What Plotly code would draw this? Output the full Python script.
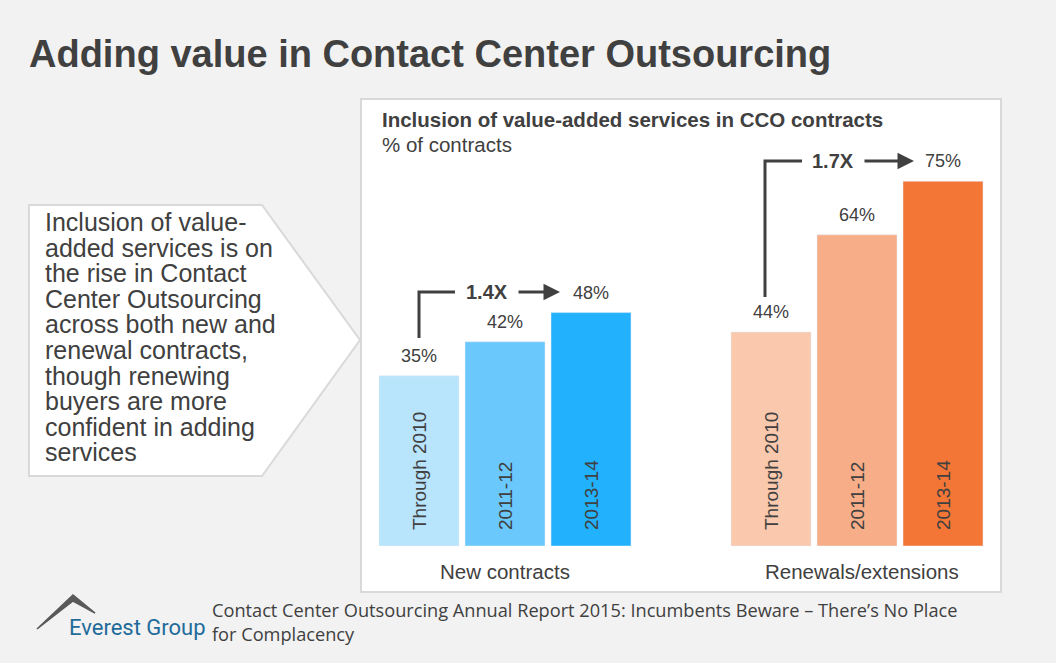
import plotly.graph_objects as go

W, H = 1056, 663

# dados
periodos = ['Through 2010', '2011-12', '2013-14']
novos = [35, 42, 48]
renovacoes = [44, 64, 75]
grupos = ['New contracts', 'Renewals/extensions']
multiplos = ['1.4X', '1.7X']

cores_novos = ['#b8e4fc', '#6ac8fd', '#22b1fd']
cores_renov = ['#f9c8ad', '#f6ad88', '#f47636']
TXT = '#404040'
FONTE = 'Liberation Sans, Arial, sans-serif'


def px(x):
    return x / W


def py(y):
    return 1 - y / H


def texto(x, y, t, size, xanchor='left', family=FONTE, color=TXT):
    # anotação em coordenadas de pixel da imagem
    return dict(x=px(x), y=py(y), xref='paper', yref='paper', text=t, showarrow=False,
                xanchor=xanchor, yanchor='middle',
                font=dict(size=size, color=color, family=family))


fig = go.Figure()
fig.add_trace(go.Bar(x=periodos, y=novos, marker_color=cores_novos,
                     xaxis='x', yaxis='y', hoverinfo='skip'))
fig.add_trace(go.Bar(x=periodos, y=renovacoes, marker_color=cores_renov,
                     xaxis='x2', yaxis='y', hoverinfo='skip'))

anots = []
shapes = []

# rótulos dentro das barras e valores acima
for ref, vals in (('x', novos), ('x2', renovacoes)):
    for p, v in zip(periodos, vals):
        anots.append(dict(x=p, y=0, xref=ref, yref='y', text=p, textangle=-90,
                          showarrow=False, xanchor='center', yanchor='bottom', yshift=14,
                          font=dict(size=19, color=TXT, family=FONTE)))
        anots.append(dict(x=p, y=v, xref=ref, yref='y', text=f'{v}%',
                          showarrow=False, xanchor='center', yanchor='bottom', yshift=8,
                          font=dict(size=18, color=TXT, family=FONTE)))

# rótulos dos grupos
for g, xc in zip(grupos, (505, 862)):
    anots.append(texto(xc, 571, g, 20.5, xanchor='center'))

# colchetes com multiplicador e seta
for m, (xv, yb, yt, xh, xt, xa0, xa1) in zip(
        multiplos,
        [(419, 338, 292, 455, 487, 517, 560), (765, 297, 161, 802, 833, 863, 914)]):
    shapes.append(dict(type='path', xref='paper', yref='paper',
                       path=f'M {px(xv)} {py(yb)} L {px(xv)} {py(yt)} L {px(xh)} {py(yt)}',
                       line=dict(color=TXT, width=3)))
    anots.append(texto(xt, yt, f'<b>{m}</b>', 20, xanchor='center'))
    anots.append(dict(x=px(xa1), y=py(yt), xref='paper', yref='paper', text='',
                      showarrow=True, ax=xa0 - xa1, ay=0, arrowhead=2, arrowsize=1.1,
                      arrowwidth=3, arrowcolor=TXT))

# painel branco e caixa em forma de seta
shapes.insert(0, dict(type='rect', xref='paper', yref='paper', layer='below',
                      x0=px(361), x1=px(1001), y0=py(592), y1=py(99),
                      fillcolor='white', line=dict(color='#d9d9d9', width=2)))
shapes.insert(0, dict(type='path', xref='paper', yref='paper', layer='below',
                      path=f'M {px(29)} {py(205)} L {px(262)} {py(205)} L {px(360)} {py(340)} '
                           f'L {px(262)} {py(476)} L {px(29)} {py(476)} Z',
                      fillcolor='white', line=dict(color='#d9d9d9', width=2)))

# logotipo (montanha)
shapes.append(dict(type='path', xref='paper', yref='paper',
                   path=f'M {px(37)} {py(629)} L {px(73)} {py(595)} L {px(95)} {py(613)} '
                        f'L {px(73)} {py(601)} Z',
                   fillcolor='#595959', line=dict(color='#595959', width=1.5)))

texto_caixa = ['Inclusion of value-', 'added services is on', 'the rise in Contact',
               'Center Outsourcing', 'across both new and', 'renewal contracts,',
               'though renewing', 'buyers are more', 'confident in adding', 'services']
for i, linha in enumerate(texto_caixa):
    anots.append(texto(43, 222 + i * 25.6, linha, 25))

anots += [
    texto(27, 54, '<b>Adding value in Contact Center Outsourcing</b>', 38),
    texto(380, 119, '<b>Inclusion of value-added services in CCO contracts</b>', 20.5),
    texto(380, 144, '% of contracts', 20.5),
    texto(67, 627, 'Everest Group', 22, color='#1f6b9a',
          family='Liberation Sans Narrow, Roboto, sans-serif'),
    texto(210, 610, 'Contact Center Outsourcing Annual Report 2015: Incumbents Beware '
                    '\u2013 There\u2019s No Place', 18.2, family='Open Sans, sans-serif'),
    texto(210, 634, 'for Complacency', 18.2, family='Open Sans, sans-serif'),
]

eixo_x = dict(type='category', showgrid=False, zeroline=False, showticklabels=False,
              showline=False, fixedrange=True)
fig.update_layout(
    width=W, height=H,
    margin=dict(l=0, r=0, t=0, b=0),
    paper_bgcolor='#f2f2f2', plot_bgcolor='rgba(0,0,0,0)',
    showlegend=False, bargap=0.07,
    xaxis=dict(domain=[px(376), px(634)], anchor='y', **eixo_x),
    xaxis2=dict(domain=[px(728), px(986)], anchor='y', **eixo_x),
    yaxis=dict(domain=[py(546), py(157)], range=[0, 80], showgrid=False,
               zeroline=False, showticklabels=False, fixedrange=True),
    shapes=shapes, annotations=anots,
)

fig.write_html('out.html', config={'displayModeBar': False},
               post_script="document.body.style.margin='0';")
